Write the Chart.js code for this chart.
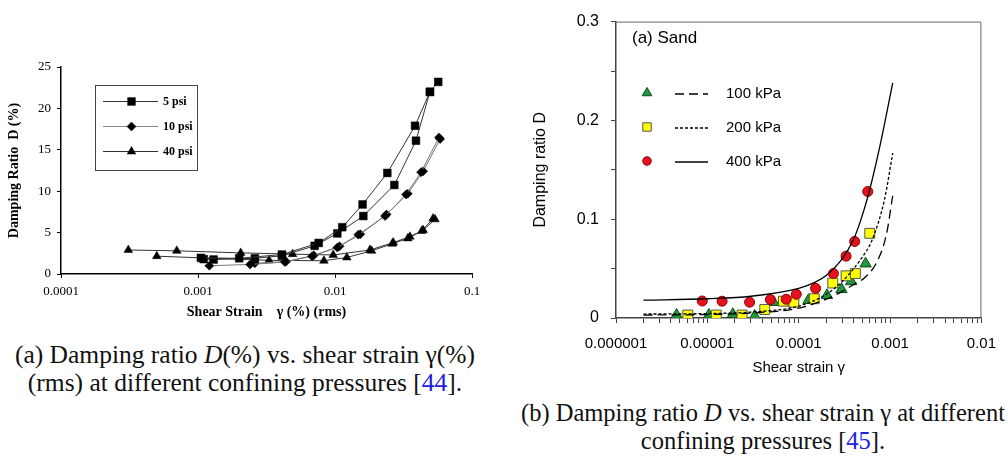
<!DOCTYPE html>
<html>
<head>
<meta charset="utf-8">
<script src="https://cdn.jsdelivr.net/npm/chart.js@4/dist/chart.umd.min.js"></script>
<style>
  body { margin: 0; background: #fff; width: 1008px; height: 459px; position: relative; overflow: hidden; }
  canvas { position: absolute; }
  #chartA { left: 0; top: 50px; }
  #chartB { left: 520px; top: 0; }
  .cap { position: absolute; font-family: "Liberation Serif", "DejaVu Serif", serif; line-height: 28px; text-align: center; color: #111; white-space: nowrap; }
  .cap a { color: #2020e0; text-decoration: none; }
  #capA { left: 0; width: 490px; top: 341px; font-size: 25.5px; }
  #capB { left: 518px; width: 490px; top: 399px; font-size: 24.5px; }
</style>
</head>
<body>
<canvas id="chartA" width="500" height="280"></canvas>
<canvas id="chartB" width="488" height="380"></canvas>
<div class="cap" id="capA">(a) Damping ratio <i>D</i>(%) vs. shear strain γ(%)<br>(rms) at different confining pressures [<a>44</a>].</div>
<div class="cap" id="capB">(b) Damping ratio <i>D</i> vs. shear strain γ at different<br>confining pressures [<a>45</a>].</div>
<script>
// Left chart: damping ratio (%) vs shear strain (%) – two branches per test
const psi5StrainA = [0.00105, 0.0020, 0.0041, 0.0076, 0.0113, 0.0159, 0.0241, 0.0384, 0.0493, 0.0567];
const psi5DampA = [1.95, 1.9, 2.35, 3.75, 5.65, 8.4, 12.2, 17.9, 22.0, 23.2];
const psi5StrainB = [0.0011, 0.0013, 0.0026, 0.0041, 0.0071, 0.0104, 0.0161, 0.0271, 0.039, 0.0493];
const psi5DampB = [1.8, 1.75, 1.9, 2.2, 3.4, 4.9, 7.0, 10.75, 16.1, 22.0];

const psi10StrainA = [0.00121, 0.0024, 0.0043, 0.0068, 0.0104, 0.0148, 0.0232, 0.033, 0.0425, 0.0574];
const psi10DampA = [1.0, 1.15, 1.45, 2.15, 3.2, 4.75, 7.0, 9.6, 12.3, 16.5];
const psi10StrainB = [0.0026, 0.0044, 0.007, 0.0108, 0.0153, 0.0238, 0.034, 0.044, 0.0585];
const psi10DampB = [1.3, 1.5, 2.25, 3.35, 4.8, 7.2, 9.7, 12.4, 16.3];

const psi40StrainA = [0.00031, 0.0007, 0.00205, 0.0049, 0.0097, 0.018, 0.0266, 0.0352, 0.044, 0.0537];
const psi40DampA = [2.9, 2.8, 2.55, 2.4, 2.3, 2.9, 3.8, 4.5, 5.3, 6.6];
const psi40StrainB = [0.0005, 0.0033, 0.0083, 0.0122, 0.0185, 0.0262, 0.034, 0.043, 0.052];
const psi40DampB = [2.15, 1.65, 1.6, 2.0, 2.8, 3.65, 4.3, 5.2, 6.7];

const leftLabels = ["5 psi", "10 psi", "40 psi"];
const leftXTicks = [0.0001, 0.001, 0.01, 0.1];
const leftXTickLabels = ["0.0001", "0.001", "0.01", "0.1"];

// Right chart: sand, damping ratio vs shear strain
const sand100Strain = [4.6e-6, 1.04e-5, 1.9e-5, 3.3e-5, 5.3e-5, 1.28e-4, 2.04e-4, 2.94e-4, 3.75e-4, 5.4e-4];
const sand100Damp = [0.003, 0.003, 0.0037, 0.002, 0.016, 0.018, 0.023, 0.029, 0.037, 0.055];
const sand200Strain = [6.1e-6, 1.25e-5, 2.4e-5, 4.25e-5, 6.8e-5, 8.85e-5, 1.48e-4, 2.36e-4, 3.3e-4, 4.17e-4, 6.0e-4];
const sand200Damp = [0.003, 0.003, 0.003, 0.0086, 0.017, 0.016, 0.0195, 0.0354, 0.0427, 0.045, 0.0857];
const sand400Strain = [8.8e-6, 1.45e-5, 2.9e-5, 4.9e-5, 7.3e-5, 9.4e-5, 1.53e-4, 2.4e-4, 3.3e-4, 4.1e-4, 5.7e-4];
const sand400Damp = [0.0172, 0.017, 0.016, 0.0186, 0.019, 0.024, 0.030, 0.045, 0.0626, 0.0775, 0.128];

// fitted curves
const fit100Strain = [2e-6, 1e-5, 3e-5, 1e-4, 2e-4, 3e-4, 4e-4, 5.3e-4, 7.1e-4, 9.1e-4, 1.07e-3];
const fit100Damp = [0.003, 0.0035, 0.005, 0.010, 0.019, 0.027, 0.034, 0.041, 0.056, 0.084, 0.124];
const fit200Strain = [2e-6, 1e-5, 3e-5, 1e-4, 2e-4, 3e-4, 4e-4, 5e-4, 6.3e-4, 8.7e-4, 1.07e-3];
const fit200Damp = [0.004, 0.0045, 0.006, 0.012, 0.024, 0.037, 0.050, 0.062, 0.078, 0.12, 0.167];
const fit400Strain = [2e-6, 1e-5, 3e-5, 1e-4, 1.5e-4, 2e-4, 3e-4, 4e-4, 4.7e-4, 5.8e-4, 7.7e-4, 1.07e-3];
const fit400Damp = [0.018, 0.0195, 0.022, 0.030, 0.036, 0.043, 0.060, 0.080, 0.097, 0.125, 0.173, 0.238];

const rightLabels = ["100 kPa", "200 kPa", "400 kPa"];
const rightXTicks = [1e-6, 1e-5, 1e-4, 1e-3, 1e-2];
const rightXTickLabels = ["0.000001", "0.00001", "0.0001", "0.001", "0.01"];
const rightYTicks = [0, 0.1, 0.2, 0.3];

const pts = (xs, ys) => xs.map((x, i) => ({ x: x, y: ys[i] }));

function marker(ctx, style, r, x, y, fill, stroke, bw) {
  ctx.save();
  ctx.fillStyle = fill;
  ctx.strokeStyle = stroke;
  ctx.lineWidth = bw;
  if (Chart.helpers && Chart.helpers.drawPoint) {
    Chart.helpers.drawPoint(ctx, { pointStyle: style, radius: r, rotation: 0, borderWidth: bw }, x, y);
  } else {
    ctx.beginPath();
    ctx.arc(x, y, r, 0, Math.PI * 2);
    ctx.fill();
    if (bw) ctx.stroke();
  }
  ctx.restore();
}

const serif = "'Liberation Serif', 'DejaVu Serif', serif";
const sans = "'Liberation Sans', Arial, sans-serif";

// ---------- left chart ----------
function branch(label, xs, ys, style, r, lineColor) {
  return {
    label: label,
    data: pts(xs, ys),
    showLine: true,
    borderColor: lineColor,
    borderWidth: 1,
    pointStyle: style,
    pointRadius: r,
    pointBackgroundColor: "#000",
    pointBorderColor: "#000",
    pointBorderWidth: 0.5,
  };
}

const leftLegend = {
  id: "leftLegend",
  afterDraw(chart) {
    const ctx = chart.ctx;
    ctx.save();
    ctx.strokeStyle = "#444";
    ctx.lineWidth = 1;
    ctx.strokeRect(95.5, 35.5, 102, 85);
    const rows = [
      { style: "rect", r: 5.5, color: "#333" },
      { style: "rectRot", r: 4.5, color: "#888" },
      { style: "triangle", r: 5, color: "#333" },
    ];
    rows.forEach((row, i) => {
      const y = 51.5 + i * 25;
      ctx.strokeStyle = row.color;
      ctx.beginPath();
      ctx.moveTo(103, y);
      ctx.lineTo(158, y);
      ctx.stroke();
      marker(ctx, row.style, row.r, 131.5, y, "#000", "#000", 0.5);
      ctx.fillStyle = "#000";
      ctx.font = "bold 12px " + serif;
      ctx.textBaseline = "middle";
      ctx.fillText(leftLabels[i], 163, y);
    });
    ctx.restore();
  },
};

new Chart(document.getElementById("chartA"), {
  type: "scatter",
  data: {
    datasets: [
      branch(leftLabels[0], psi5StrainA, psi5DampA, "rect", 5.5, "#333"),
      branch(leftLabels[0], psi5StrainB, psi5DampB, "rect", 5.5, "#333"),
      branch(leftLabels[1], psi10StrainA, psi10DampA, "rectRot", 4.5, "#777"),
      branch(leftLabels[1], psi10StrainB, psi10DampB, "rectRot", 4.5, "#777"),
      branch(leftLabels[2], psi40StrainA, psi40DampA, "triangle", 5, "#333"),
      branch(leftLabels[2], psi40StrainB, psi40DampB, "triangle", 5, "#333"),
    ],
  },
  options: {
    responsive: false,
    animation: false,
    layout: { padding: { left: 0, right: 28, top: 17, bottom: 0 } },
    plugins: { legend: { display: false }, tooltip: { enabled: false } },
    scales: {
      x: {
        type: "logarithmic",
        min: 0.0001,
        max: 0.1,
        afterFit: (s) => { s.height = 56; },
        afterBuildTicks: (s) => { s.ticks = leftXTicks.map((v) => ({ value: v })); },
        grid: { drawOnChartArea: false, tickLength: 4, color: "#000" },
        border: { color: "#000", width: 1.5 },
        ticks: {
          autoSkip: false, maxRotation: 0, padding: 6, color: "#000",
          font: { family: serif, size: 13 },
          callback: (v) => { const i = leftXTicks.indexOf(v); return i >= 0 ? leftXTickLabels[i] : ""; },
        },
        title: { display: true, text: "Shear Strain    γ (%) (rms)", color: "#000", font: { family: serif, size: 14, weight: "bold" }, padding: { top: 0, bottom: 9 } },
      },
      y: {
        min: 0,
        max: 25,
        afterFit: (s) => { s.width = 61; },
        grid: { drawOnChartArea: false, tickLength: 4, color: "#000" },
        border: { color: "#000", width: 1.5 },
        ticks: { stepSize: 5, padding: 6, color: "#000", font: { family: serif, size: 13 } },
        title: { display: true, text: "Damping Ratio  D (%)", color: "#000", font: { family: serif, size: 14, weight: "bold" }, padding: { top: 6, bottom: 0 } },
      },
    },
  },
  plugins: [leftLegend],
});

// ---------- right chart ----------
const rightStyles = [
  { style: "triangle", r: 6.5, fill: "#1f9a3a", stroke: "#0d4a1a", dash: [9, 5] },
  { style: "rect", r: 7, fill: "#ffff00", stroke: "#555", dash: [3, 2] },
  { style: "circle", r: 5, fill: "#e8101c", stroke: "#8a0000", dash: [] },
];

const rightDecor = {
  id: "rightDecor",
  afterDraw(chart) {
    const ctx = chart.ctx;
    const a = chart.chartArea;
    ctx.save();
    ctx.strokeStyle = "#666";
    ctx.lineWidth = 1;
    ctx.beginPath();
    ctx.moveTo(a.left, a.top + 0.5);
    ctx.lineTo(a.right - 0.5, a.top + 0.5);
    ctx.lineTo(a.right - 0.5, a.bottom);
    ctx.stroke();
    ctx.fillStyle = "#000";
    ctx.textBaseline = "middle";
    ctx.font = "17px " + sans;
    ctx.fillText("(a) Sand", a.left + 16, 38);
    rightStyles.forEach((s, i) => {
      const y = 94 + i * 34;
      const lx = a.left;
      marker(ctx, s.style, s.r * 0.85, lx + 31, y - 1, s.fill, s.stroke, 1);
      ctx.strokeStyle = "#000";
      ctx.lineWidth = 1.3;
      ctx.setLineDash(s.dash);
      ctx.beginPath();
      ctx.moveTo(lx + 59, y);
      ctx.lineTo(lx + 92, y);
      ctx.stroke();
      ctx.setLineDash([]);
      ctx.font = "15px " + sans;
      ctx.fillText(rightLabels[i], lx + 110, y);
    });
    ctx.restore();
  },
};

function fitLine(xs, ys, dash) {
  return {
    data: pts(xs, ys),
    showLine: true,
    borderColor: "#000",
    borderWidth: 1.3,
    borderDash: dash,
    pointRadius: 0,
    cubicInterpolationMode: "monotone",
  };
}
function markers(label, xs, ys, s) {
  return {
    label: label,
    data: pts(xs, ys),
    showLine: false,
    pointStyle: s.style,
    pointRadius: s.r,
    pointBackgroundColor: s.fill,
    pointBorderColor: s.stroke,
    pointBorderWidth: 1,
  };
}

const rightMinor = [];
rightXTicks.forEach((d, i) => {
  if (i === rightXTicks.length - 1) { rightMinor.push(d); return; }
  for (let m = 1; m < 10; m++) rightMinor.push(m * d);
});

new Chart(document.getElementById("chartB"), {
  type: "scatter",
  data: {
    datasets: [
      fitLine(fit100Strain, fit100Damp, rightStyles[0].dash),
      fitLine(fit200Strain, fit200Damp, rightStyles[1].dash),
      fitLine(fit400Strain, fit400Damp, rightStyles[2].dash),
      markers(rightLabels[2], sand400Strain, sand400Damp, rightStyles[2]),
      markers(rightLabels[1], sand200Strain, sand200Damp, rightStyles[1]),
      markers(rightLabels[0], sand100Strain, sand100Damp, rightStyles[0]),
    ],
  },
  options: {
    responsive: false,
    animation: false,
    layout: { padding: { left: 0, right: 16, top: 16, bottom: 0 } },
    plugins: { legend: { display: false }, tooltip: { enabled: false } },
    scales: {
      x: {
        type: "logarithmic",
        min: 1e-6,
        max: 1e-2,
        afterFit: (s) => { s.height = 62; },
        afterBuildTicks: (s) => { s.ticks = rightMinor.map((v) => ({ value: v })); },
        grid: { drawOnChartArea: false, tickLength: 5, color: "#444" },
        border: { color: "#444", width: 1.5 },
        ticks: {
          autoSkip: false, maxRotation: 0, padding: 12, color: "#000",
          font: { family: sans, size: 15 },
          callback: (v) => {
            const i = rightXTicks.findIndex((t) => Math.abs(t - v) / t < 1e-6);
            return i >= 0 ? rightXTickLabels[i] : "";
          },
        },
        title: { display: true, text: "Shear strain γ", color: "#000", font: { family: sans, size: 15 }, padding: { top: 0, bottom: 3 } },
      },
      y: {
        min: 0,
        max: 0.3,
        afterFit: (s) => { s.width = 96; },
        grid: { drawOnChartArea: false, tickLength: 5, color: "#444" },
        border: { color: "#444", width: 1.5 },
        ticks: {
          stepSize: 0.05, padding: 12, color: "#000", font: { family: sans, size: 16 },
          callback: (v) => {
            const i = rightYTicks.findIndex((t) => Math.abs(t - v) < 1e-6);
            return i >= 0 ? String(rightYTicks[i]) : "";
          },
        },
        title: { display: true, text: "Damping ratio D", color: "#000", font: { family: sans, size: 16 }, padding: { top: 11, bottom: 0 } },
      },
    },
  },
  plugins: [rightDecor],
});
</script>
</body>
</html>
